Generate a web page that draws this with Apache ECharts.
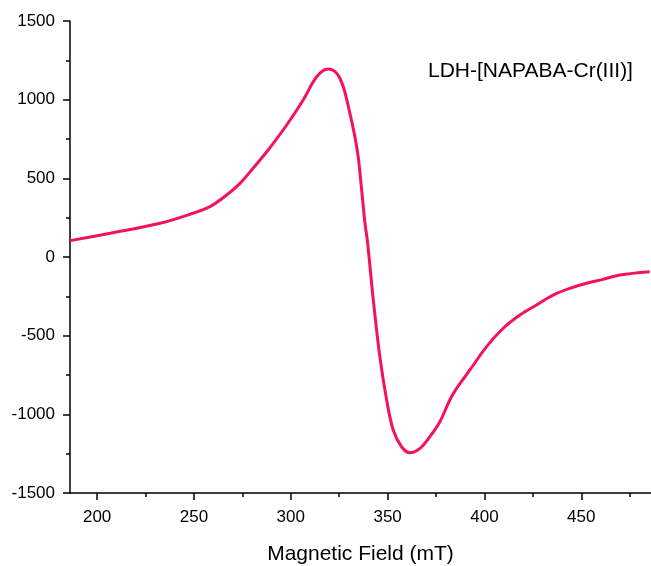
<!DOCTYPE html>
<html>
<head>
<meta charset="utf-8">
<script src="https://cdn.jsdelivr.net/npm/echarts@6/dist/echarts.min.js"></script>
<style>
  html, body { margin: 0; padding: 0; background: #fff; }
  #main { width: 651px; height: 566px; }
</style>
</head>
<body>
<div id="main"></div>
<script>
// field values (mT) and EPR signal
const field = [186.1, 206.7, 232.5, 249.5, 258.3, 266.9, 273.8, 280.5, 287.6, 297.9, 306.4, 313.4, 319.3,
  323.7, 327.1, 330.5, 333.1, 334.8, 336.6, 338.3, 339.5, 340.9, 342.6, 346.0, 349.5, 352.9, 357.2,
  361.5, 366.7, 371.8, 377.0, 382.1, 385.6, 392.5, 401.1, 409.7, 418.3, 426.9, 435.4, 444.1, 452.7,
  461.3, 469.9, 485.3];
const signal = [104, 151, 214, 278, 320, 394, 468, 564, 669, 839, 998, 1146, 1195,
  1168, 1082, 915, 765, 637, 426, 216, 108, -62, -273, -634, -909, -1100, -1206,
  -1244, -1216, -1142, -1047, -909, -835, -718, -570, -453, -369, -305, -242, -199, -167,
  -142, -114, -93];
const xMajor = [200, 250, 300, 350, 400, 450];
const xMinor = [225, 275, 325, 375, 425, 475];
const seriesName = 'LDH-[NAPABA-Cr(III)]';

const chart = echarts.init(document.getElementById('main'));
const font = 'Liberation Sans, Arial';
const black = { color: '#000', width: 1.5 };

chart.setOption({
  animation: false,
  grid: { left: 70, top: 21, right: 0, bottom: 73, outerBoundsMode: 'none', containLabel: false },
  xAxis: [{
    type: 'value', min: 186, max: 486,
    axisLine: { show: true, onZero: false, lineStyle: black },
    axisTick: { show: true, length: 7, lineStyle: black, customValues: xMajor },
    axisLabel: { customValues: xMajor, margin: 16, color: '#000', fontSize: 17, fontFamily: font },
    splitLine: { show: false },
    name: 'Magnetic Field (mT)', nameLocation: 'middle', nameGap: 51,
    nameTextStyle: { color: '#000', fontSize: 21, fontFamily: font }
  }, {
    type: 'value', min: 186, max: 486, position: 'bottom',
    axisLine: { show: false, onZero: false },
    axisTick: { show: true, length: 4, lineStyle: black, customValues: xMinor },
    axisLabel: { show: false },
    splitLine: { show: false }
  }],
  yAxis: {
    type: 'value', min: -1500, max: 1500, interval: 500,
    axisLine: { show: true, lineStyle: black },
    axisTick: { show: true, length: 7, lineStyle: black },
    minorTick: { show: true, splitNumber: 2, length: 4, lineStyle: black },
    axisLabel: { margin: 15, color: '#000', fontSize: 17, fontFamily: font, formatter: v => String(v) },
    splitLine: { show: false }
  },
  graphic: [{
    type: 'text', left: 428, top: 61,
    style: { text: seriesName, fill: '#000', fontSize: 21, fontFamily: font }
  }],
  series: [{
    type: 'line', name: seriesName,
    data: field.map((f, i) => [f, signal[i]]),
    smooth: 0.35, showSymbol: false,
    lineStyle: { color: '#f5115e', width: 3 }
  }]
});
</script>
</body>
</html>
